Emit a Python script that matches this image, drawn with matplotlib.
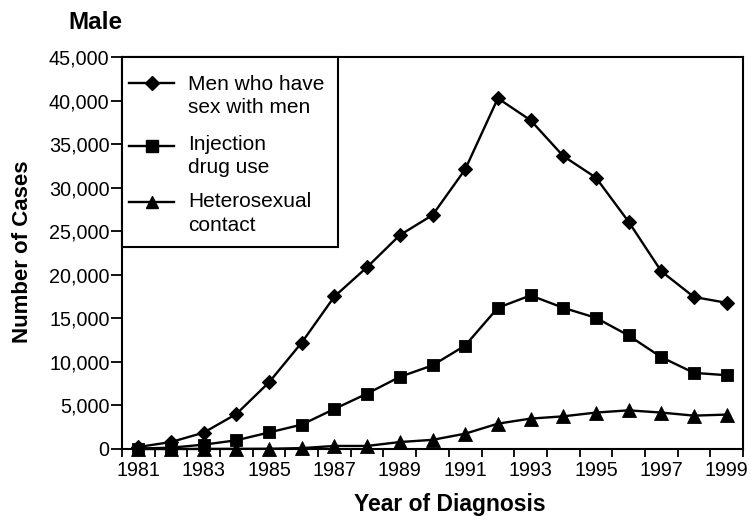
import matplotlib
matplotlib.use("Agg")
import matplotlib.pyplot as plt
from matplotlib.lines import Line2D
from matplotlib.patches import Rectangle
from matplotlib.ticker import FuncFormatter

# ---- data ----
years = list(range(1981, 2000))
msm = [230, 800, 1880, 4020, 7660, 12220, 17510, 20880, 24550, 26850,
       32100, 40260, 37740, 33630, 31150, 26090, 20400, 17450, 16780]
idu = [50, 150, 500, 1000, 1900, 2800, 4600, 6360, 8280, 9600,
       11880, 16210, 17630, 16210, 15060, 13030, 10540, 8740, 8470]
het = [0, 0, 10, 20, 30, 100, 350, 350, 800, 1050,
       1760, 2910, 3490, 3750, 4180, 4440, 4180, 3830, 3950]
series_labels = [["Men who have", "sex with men"],
                 ["Injection", "drug use"],
                 ["Heterosexual", "contact"]]
xtick_years = list(range(1981, 2000, 2))
yticks = list(range(0, 45001, 5000))

plt.rcParams['font.family'] = ['Liberation Sans', 'DejaVu Sans']

W, H = 751, 516
fig = plt.figure(figsize=(W / 100, H / 100), dpi=100)
fig.patch.set_facecolor('white')


def fx(x):
    return x / W


def fy(y):
    return 1 - y / H


L, R, T, B = 122, 743, 57, 449
ax = fig.add_axes([fx(L), fy(B), (R - L) / W, (B - T) / H])

MS = {'D': 7.6, 's': 8.4, '^': 9.4}
style = dict(color='black', lw=1.7, clip_on=False, zorder=3)
ax.plot(years, msm, marker='D', ms=MS['D'], mew=0.8, mec='black', mfc='black', **style)
ax.plot(years, idu, marker='s', ms=MS['s'], mew=0.6, mec='black', mfc='black', **style)
ax.plot(years, het, marker='^', ms=MS['^'], mew=0.6, mec='black', mfc='black', **style)

ax.set_xlim(years[0] - 0.5, years[-1] + 0.5)
ax.set_ylim(0, 45000)

# category boundaries as ticks, labels at odd years
bounds = [y - 0.5 for y in years] + [years[-1] + 0.5]
ax.set_xticks(bounds)
ax.set_xticklabels([''] * len(bounds))
ax.set_xticks(xtick_years, minor=True)
ax.set_xticklabels([str(y) for y in xtick_years], minor=True)
ax.tick_params(axis='x', which='major', direction='out', length=5.5, width=1.3)
ax.tick_params(axis='x', which='minor', length=0, pad=9, labelsize=14.2)

ax.set_yticks(yticks)
ax.yaxis.set_major_formatter(FuncFormatter(lambda v, p: f"{int(v):,}"))
ax.tick_params(axis='y', direction='out', length=8, width=1.3, pad=1, labelsize=14.2)

for s in ax.spines.values():
    s.set_linewidth(1.5)
    s.set_color('black')

# titles and axis labels
fig.text(fx(68), fy(29), "Male", fontsize=17.5, fontweight='bold', ha='left', va='baseline')
fig.text(fx(450), fy(511), "Year of Diagnosis", fontsize=16.5, fontweight='bold',
         ha='center', va='baseline')
fig.text(fx(23), fy(252), "Number of Cases", fontsize=16, fontweight='bold',
         ha='center', va='center', rotation=90)

# legend
frame = Rectangle((fx(L), fy(247)), (338 - L) / W, (247 - T) / H,
                  transform=fig.transFigure, facecolor='white', edgecolor='black',
                  lw=1.5, zorder=5)
fig.add_artist(frame)
markers = ['D', 's', '^']
handle_y = [83, 145.5, 201.5]
text_base = [(90, 113), (150, 173), (207, 231)]
for m, hy, (b1, b2), lab in zip(markers, handle_y, text_base, series_labels):
    ln = Line2D([fx(129), fx(151.5), fx(174)], [fy(hy)] * 3, transform=fig.transFigure,
                color='black', lw=1.7, marker=m, ms=MS[m] * 0.95, mfc='black', mec='black',
                markevery=[1], zorder=6)
    fig.add_artist(ln)
    fig.text(fx(188), fy(b1), lab[0], fontsize=15, ha='left', va='baseline', zorder=6)
    fig.text(fx(188), fy(b2), lab[1], fontsize=15, ha='left', va='baseline', zorder=6)

fig.savefig("out.png", dpi=100)
